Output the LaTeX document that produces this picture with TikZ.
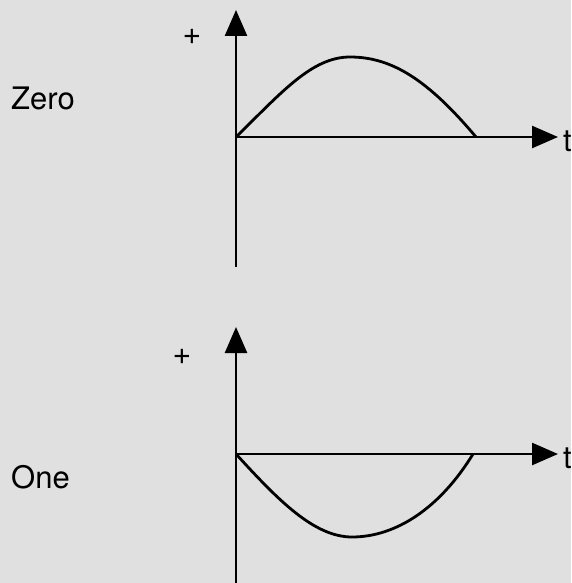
\documentclass[tikz,border=0pt]{standalone}
\usepackage{fontspec}
\setmainfont{TeX Gyre Heros}
\usepackage{xcolor}
\usetikzlibrary{arrows.meta,positioning}
\definecolor{paper}{RGB}{224,224,224}

\begin{document}
\begin{tikzpicture}[
    x=1pt, y=-1pt,
    axis/.style={line width=2.6pt, -{Triangle[length=26pt, width=22pt]}},
    wave/.style={line width=2.8pt},
    label/.style={inner sep=0pt, font=\fontsize{31}{33}\selectfont},
    sign/.style={inner sep=0pt, font=\fontsize{32}{34}\selectfont}
]
    \useasboundingbox (0,0) rectangle (571,583);
    \fill[paper] (0,0) rectangle (571,583);
    \clip (0,0) rectangle (571,583);

    % top plot: zero
    \coordinate (o1) at (236,137);
    \coordinate (y1) at (236,10);
    \coordinate (b1) at (236,267);
    \coordinate (t1) at (558,137);
    \draw[axis] (b1) -- (y1);
    \draw[axis] (o1) -- (t1);
    \draw[wave] (o1) .. controls (282,92) and (312,57) .. (350,57)
                     .. controls (392,57) and (428,80) .. (476,137);
    \node[label, anchor=west] (zero) at (11,98) {Zero};
    \node[sign] (plus1) at (192,37) {+};
    \node[label, anchor=west] (time1) at (563,141) {t};

    % bottom plot: one
    \coordinate (o2) at (236,454);
    \coordinate (y2) at (236,327);
    \coordinate (b2) at (236,583);
    \coordinate (t2) at (558,454);
    \draw[axis] (b2) -- (y2);
    \draw[axis] (o2) -- (t2);
    \draw[wave] (o2) .. controls (278,500) and (314,537) .. (352,537)
                     .. controls (396,537) and (440,508) .. (473,454);
    \node[label, anchor=west] (one) at (11,477) {One};
    \node[sign] (plus2) at (182,357) {+};
    \node[label, anchor=west] (time2) at (563,458) {t};
\end{tikzpicture}
\end{document}
